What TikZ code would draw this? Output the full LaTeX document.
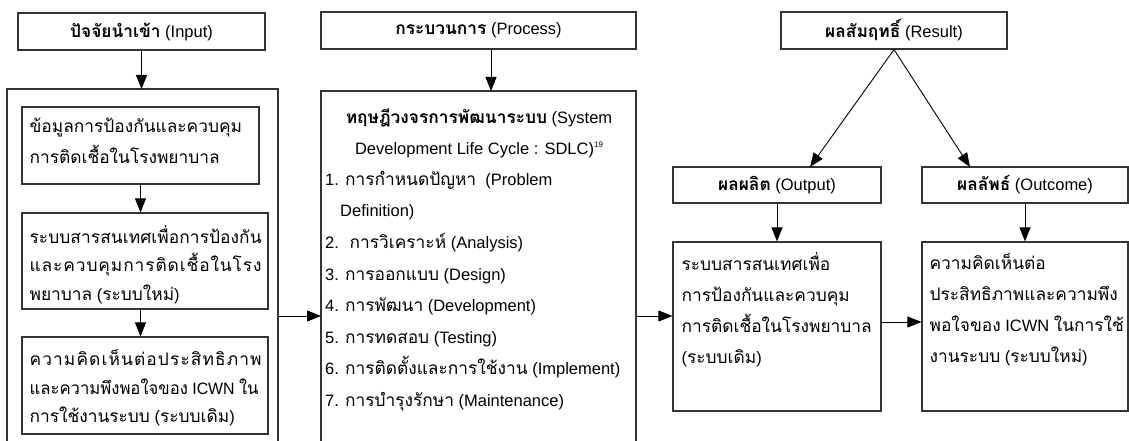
\documentclass[tikz,border=0pt]{standalone}
\usepackage{fontspec}
\setmainfont{Liberation Sans}
\newfontfamily\thaifont[Script=Thai,Scale=1.05]{Loma}
\usetikzlibrary{arrows.meta,calc}
\newcommand{\tht}[1]{{\thaifont #1}}
\newcommand{\thb}[1]{{\thaifont\bfseries #1}}
% one justified line of an input box, spread between the letters
\newcommand{\jline}[1]{\makebox[232pt][s]{\thaifont #1}}
\newcommand{\dsp}{\hfil}
\begin{document}
\begin{tikzpicture}[x=1pt,y=-1pt,
    box/.style={draw=black!80, line width=1.2pt, rectangle, inner sep=0pt},
    head/.style={box, minimum height=37pt, font=\fontsize{16.5}{20}\selectfont},
    txt/.style={align=left, inner sep=0pt, anchor=north west, font=\fontsize{16.5}{31}\selectfont},
    tight/.style={txt, font=\fontsize{16.5}{28.5}\selectfont},
    arr/.style={-{Triangle[length=14pt,width=11pt]}, line width=0.9pt}]

    % Fix the size of the picture
    \useasboundingbox (0,0) rectangle (1129,441);

    % Header boxes
    \node[head, minimum width=247pt] (inHead) at (141.5,31.5) {\thb{ปัจจัยนำเข้า} (Input)};
    \node[head, minimum width=315pt] (procHead) at (478.5,30.5) {\thb{กระบวนการ} (Process)};
    \node[head, minimum width=226pt] (resHead) at (894,30.5) {\thb{ผลสัมฤทธิ์} (Result)};
    \node[head, minimum width=208pt, minimum height=36pt] (outHead) at (777,185) {\thb{ผลผลิต} (Output)};
    \node[head, minimum width=206pt, minimum height=36pt] (ocHead) at (1025,185) {\thb{ผลลัพธ์} (Outcome)};

    % Input frame, open at the bottom
    \draw[box] (7,441) -- (7,89) -- (278,89) -- (278,441);
    \coordinate (inTop) at (141.5,89);
    \coordinate (inRight) at (278,316);

    % Boxes inside the input frame
    \node[box, minimum width=237pt, minimum height=77pt] (inA) at (140.5,145.5) {};
    \node[box, minimum width=246pt, minimum height=96pt] (inB) at (145,261) {};
    \node[box, minimum width=246pt, minimum height=97pt] (inC) at (145,385.5) {};
    \node[txt] (inAtext) at ($(inA.north west)+(8,11)$) {\tht{ข้อมูลการป้องกันและควบคุม}\\\tht{การติดเชื้อในโรงพยาบาล}};
    \node[tight] (inBtext) at ($(inB.north west)+(8,13)$) {%
        \jline{ร\dsp ะ\dsp บ\dsp บ\dsp ส\dsp า\dsp ร\dsp ส\dsp น\dsp เ\dsp ท\dsp ศ\dsp เ\dsp พื่\dsp อ\dsp ก\dsp า\dsp ร\dsp ป้\dsp อ\dsp ง\dsp กั\dsp น}\\
        \jline{แ\dsp ล\dsp ะ\dsp ค\dsp ว\dsp บ\dsp คุ\dsp ม\dsp ก\dsp า\dsp ร\dsp ติ\dsp ด\dsp เ\dsp ชื้\dsp อ\dsp ใ\dsp น\dsp โ\dsp ร\dsp ง}\\
        \tht{พยาบาล} (\tht{ระบบใหม่})};
    \node[tight] (inCtext) at ($(inC.north west)+(8,13)$) {%
        \jline{ค\dsp ว\dsp า\dsp ม\dsp คิ\dsp ด\dsp เ\dsp ห็\dsp น\dsp ต่\dsp อ\dsp ป\dsp ร\dsp ะ\dsp สิ\dsp ท\dsp ธิ\dsp ภ\dsp า\dsp พ}\\
        \resizebox{229pt}{\height}{\tht{และความพึงพอใจของ} ICWN \tht{ใน}}\\
        \tht{การใช้งานระบบ} (\tht{ระบบเดิม})};

    % Process frame, open at the bottom
    \draw[box] (321,441) -- (321,91) -- (636,91) -- (636,441);
    \coordinate (procTop) at (491,91);
    \coordinate (procLeft) at (321,316);
    \coordinate (procRight) at (636,316);

    \node[align=center, inner sep=0pt, font=\fontsize{16.5}{31}\selectfont] (procTitle) at (479,133)
        {\thb{ทฤษฎีวงจรการพัฒนาระบบ} (System\\Development Life Cycle : SDLC)\raisebox{7pt}{\fontsize{8}{8}\selectfont 19}};
    \node[txt, font=\fontsize{16.5}{31.6}\selectfont] (procList) at (325,171) {1. \tht{การกำหนดปัญหา}~ (Problem\\
        \hspace*{15pt}Definition)\\
        2.~ \tht{การวิเคราะห์} (Analysis)\\
        3. \tht{การออกแบบ} (Design)\\
        4. \tht{การพัฒนา} (Development)\\
        5. \tht{การทดสอบ} (Testing)\\
        6. \tht{การติดตั้งและการใช้งาน} (Implement)\\
        7. \tht{การบำรุงรักษา} (Maintenance)};

    % Output and outcome boxes
    \node[box, minimum width=208pt, minimum height=169pt] (outBody) at (777,326.5) {};
    \node[box, minimum width=206pt, minimum height=169pt] (ocBody) at (1025,326.5) {};
    \node[txt] (outText) at ($(outBody.north west)+(9,11.5)$) {\tht{ระบบสารสนเทศเพื่อ}\\\tht{การป้องกันและควบคุม}\\\tht{การติดเชื้อในโรงพยาบาล}\\(\tht{ระบบเดิม})};
    \node[txt] (ocText) at ($(ocBody.north west)+(8,11.5)$) {\tht{ความคิดเห็นต่อ}\\\tht{ประสิทธิภาพและความพึง}\\\tht{พอใจของ} ICWN \tht{ในการใช้}\\\tht{งานระบบ} (\tht{ระบบใหม่})};
    \coordinate (outRight) at ($(outBody.east)+(0,-4.5)$);
    \coordinate (outTip) at (810,167);
    \coordinate (ocTip) at (970,167);

    % Arrows
    \draw[arr] (inHead.south) -- (inTop);
    \draw[arr] (inA.south) -- (inA.south |- inB.north);
    \draw[arr] (inB.south -| inA.south) -- (inA.south |- inC.north);
    \draw[arr] (procHead.south -| procTop) -- (procTop);
    \draw[arr] (inRight) -- (procLeft);
    \draw[arr] (procRight) -- (procRight -| outBody.west);
    \draw[arr] (resHead.south) -- (outTip);
    \draw[arr] (resHead.south) -- (ocTip);
    \draw[arr] (outHead.south) -- (outBody.north);
    \draw[arr] (ocHead.south) -- (ocBody.north);
    \draw[arr] (outRight) -- (outRight -| ocBody.west);

\end{tikzpicture}
\end{document}
